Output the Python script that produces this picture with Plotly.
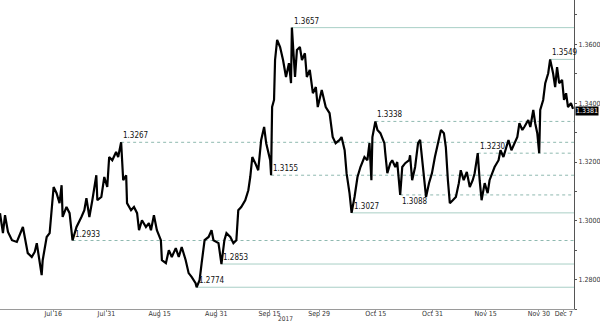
import plotly.graph_objects as go

# ---- price path (intraday samples) ----
times = [
    "2017-07-01 00:00", "2017-07-01 20:00", "2017-07-02 10:00", "2017-07-03 06:00", "2017-07-04 09:00",
    "2017-07-05 18:00", "2017-07-07 11:00", "2017-07-08 00:00", "2017-07-08 20:00", "2017-07-09 23:00",
    "2017-07-10 19:00", "2017-07-11 09:00", "2017-07-12 05:00", "2017-07-12 18:00", "2017-07-13 01:00",
    "2017-07-14 04:00", "2017-07-15 00:00", "2017-07-15 20:00", "2017-07-16 03:00", "2017-07-16 23:00",
    "2017-07-17 19:00", "2017-07-18 09:00", "2017-07-18 16:00", "2017-07-19 18:00", "2017-07-20 15:00",
    "2017-07-21 11:00", "2017-07-22 14:00", "2017-07-23 23:00", "2017-07-24 19:00", "2017-07-25 09:00",
    "2017-07-26 05:00", "2017-07-27 01:00", "2017-07-28 04:00", "2017-07-28 11:00", "2017-07-29 14:00",
    "2017-07-30 10:00", "2017-07-31 06:00", "2017-07-31 19:00", "2017-08-01 16:00", "2017-08-02 18:00",
    "2017-08-03 08:00", "2017-08-04 04:00", "2017-08-04 18:00", "2017-08-05 14:00", "2017-08-05 20:00",
    "2017-08-06 23:00", "2017-08-07 19:00", "2017-08-08 16:00", "2017-08-09 05:00", "2017-08-10 01:00",
    "2017-08-11 04:00", "2017-08-12 00:00", "2017-08-12 14:00", "2017-08-13 10:00", "2017-08-14 06:00",
    "2017-08-15 09:00", "2017-08-15 16:00", "2017-08-16 19:00", "2017-08-17 15:00", "2017-08-18 11:00",
    "2017-08-19 14:00", "2017-08-20 10:00", "2017-08-21 06:00", "2017-08-22 09:00", "2017-08-23 05:00",
    "2017-08-24 01:00", "2017-08-25 04:00", "2017-08-25 11:00", "2017-08-26 07:00", "2017-08-26 21:00",
    "2017-08-27 17:00", "2017-08-28 20:00", "2017-08-29 16:00", "2017-08-30 05:00", "2017-08-31 15:00",
    "2017-09-01 11:00", "2017-09-02 07:00", "2017-09-02 21:00", "2017-09-03 23:00", "2017-09-04 20:00",
    "2017-09-05 16:00", "2017-09-06 05:00", "2017-09-07 01:00", "2017-09-08 04:00", "2017-09-09 01:00",
    "2017-09-09 14:00", "2017-09-10 04:00", "2017-09-11 00:00", "2017-09-11 20:00", "2017-09-12 16:00",
    "2017-09-13 12:00", "2017-09-14 02:00", "2017-09-15 05:00", "2017-09-15 11:00", "2017-09-15 18:00",
    "2017-09-16 07:00", "2017-09-16 14:00", "2017-09-17 04:00", "2017-09-18 00:00", "2017-09-18 20:00",
    "2017-09-19 16:00", "2017-09-20 12:00", "2017-09-21 02:00", "2017-09-21 08:00", "2017-09-22 05:00",
    "2017-09-22 18:00", "2017-09-23 14:00", "2017-09-24 04:00", "2017-09-25 00:00", "2017-09-25 13:00",
    "2017-09-26 09:00", "2017-09-27 06:00", "2017-09-28 02:00", "2017-09-28 15:00", "2017-09-29 18:00",
    "2017-09-30 21:00", "2017-10-01 23:00", "2017-10-02 20:00", "2017-10-03 16:00", "2017-10-04 19:00",
    "2017-10-05 08:00", "2017-10-06 05:00", "2017-10-06 18:00", "2017-10-07 14:00", "2017-10-08 04:00",
    "2017-10-09 00:00", "2017-10-09 20:00", "2017-10-10 16:00", "2017-10-11 19:00", "2017-10-12 15:00",
    "2017-10-13 05:00", "2017-10-13 18:00", "2017-10-14 01:00", "2017-10-14 21:00", "2017-10-15 11:00",
    "2017-10-16 07:00", "2017-10-17 10:00", "2017-10-17 16:00", "2017-10-18 06:00", "2017-10-19 02:00",
    "2017-10-19 15:00", "2017-10-20 12:00", "2017-10-21 01:00", "2017-10-21 21:00", "2017-10-22 11:00",
    "2017-10-23 07:00", "2017-10-24 10:00", "2017-10-24 16:00", "2017-10-25 06:00", "2017-10-26 02:00",
    "2017-10-26 22:00", "2017-10-27 12:00", "2017-10-28 08:00", "2017-10-29 04:00", "2017-10-30 00:00",
    "2017-10-30 20:00", "2017-10-31 16:00", "2017-11-01 19:00", "2017-11-02 09:00", "2017-11-03 05:00",
    "2017-11-03 18:00", "2017-11-04 08:00", "2017-11-04 21:00", "2017-11-05 17:00", "2017-11-06 14:00",
    "2017-11-07 10:00", "2017-11-07 23:00", "2017-11-08 19:00", "2017-11-09 16:00", "2017-11-10 12:00",
    "2017-11-11 08:00", "2017-11-11 21:00", "2017-11-12 18:00", "2017-11-13 07:00", "2017-11-13 20:00",
    "2017-11-14 17:00", "2017-11-15 13:00", "2017-11-16 02:00", "2017-11-16 22:00", "2017-11-17 12:00",
    "2017-11-18 15:00", "2017-11-19 04:00", "2017-11-20 00:00", "2017-11-20 20:00", "2017-11-21 10:00",
    "2017-11-22 06:00", "2017-11-23 02:00", "2017-11-23 22:00", "2017-11-24 12:00", "2017-11-25 08:00",
    "2017-11-25 21:00", "2017-11-27 00:00", "2017-11-27 14:00", "2017-11-28 10:00", "2017-11-28 23:00",
    "2017-11-29 13:00", "2017-11-30 02:00", "2017-11-30 09:00", "2017-12-01 05:00", "2017-12-01 19:00",
    "2017-12-02 15:00", "2017-12-03 04:00", "2017-12-04 00:00", "2017-12-04 14:00", "2017-12-05 03:00",
    "2017-12-05 17:00", "2017-12-06 13:00", "2017-12-07 02:00", "2017-12-07 16:00", "2017-12-08 05:00",
    "2017-12-09 01:00", "2017-12-09 15:00",
]
prices = [
    1.3026, 1.2958, 1.3019, 1.2962, 1.2934,
    1.2928, 1.2979, 1.2945, 1.2890, 1.2877,
    1.2894, 1.2924, 1.2856, 1.2815, 1.2866,
    1.2945, 1.2958, 1.3081, 1.3115, 1.3094,
    1.3060, 1.3121, 1.3013, 1.3047, 1.3026,
    1.2933, 1.2979, 1.3013, 1.3036, 1.3077,
    1.3013, 1.3070, 1.3155, 1.3070, 1.3081,
    1.3149, 1.3115, 1.3217, 1.3206, 1.3234,
    1.3217, 1.3267, 1.3138, 1.3155, 1.3060,
    1.3036, 1.3047, 1.3026, 1.2968, 1.3002,
    1.2979, 1.2992, 1.2968, 1.3019, 1.2968,
    1.2934, 1.2866, 1.2856, 1.2900, 1.2877,
    1.2907, 1.2877, 1.2911, 1.2866, 1.2822,
    1.2809, 1.2788, 1.2774, 1.2798, 1.2856,
    1.2934, 1.2945, 1.2968, 1.2934, 1.2924,
    1.2853, 1.2934, 1.2958, 1.2945, 1.2924,
    1.2934, 1.3036, 1.3047, 1.3070, 1.3104,
    1.3149, 1.3217, 1.3196, 1.3172, 1.3275,
    1.3319, 1.3264, 1.3206, 1.3155, 1.3387,
    1.3411, 1.3547, 1.3615, 1.3591, 1.3547,
    1.3489, 1.3536, 1.3468, 1.3657, 1.3489,
    1.3581, 1.3591, 1.3547, 1.3570, 1.3489,
    1.3513, 1.3434, 1.3455, 1.3387, 1.3445,
    1.3387, 1.3366, 1.3285, 1.3264, 1.3275,
    1.3285, 1.3240, 1.3162, 1.3094, 1.3027,
    1.3081, 1.3149, 1.3183, 1.3217, 1.3206,
    1.3264, 1.3138, 1.3285, 1.3338, 1.3309,
    1.3298, 1.3264, 1.3230, 1.3162, 1.3196,
    1.3206, 1.3183, 1.3200, 1.3088, 1.3183,
    1.3196, 1.3206, 1.3223, 1.3138, 1.3183,
    1.3264, 1.3275, 1.3183, 1.3081, 1.3128,
    1.3162, 1.3217, 1.3285, 1.3309, 1.3298,
    1.3251, 1.3138, 1.3060, 1.3070, 1.3081,
    1.3128, 1.3172, 1.3138, 1.3166, 1.3115,
    1.3138, 1.3162, 1.3230, 1.3138, 1.3070,
    1.3128, 1.3094, 1.3138, 1.3162, 1.3183,
    1.3206, 1.3240, 1.3217, 1.3251, 1.3275,
    1.3240, 1.3264, 1.3285, 1.3332, 1.3309,
    1.3319, 1.3343, 1.3319, 1.3377, 1.3332,
    1.3298, 1.3230, 1.3377, 1.3411, 1.3468,
    1.3502, 1.3549, 1.3502, 1.3455, 1.3523,
    1.3468, 1.3479, 1.3411, 1.3434, 1.3387,
    1.3400, 1.3381,
]

# ---- support / resistance levels ----
level_values = [1.3657, 1.3549, 1.3338, 1.3267, 1.3230, 1.3155, 1.3088, 1.3027, 1.2933, 1.2853, 1.2774]
level_starts = ["2017-09-21 08:00", "2017-12-03 04:00", "2017-10-14 21:00", "2017-08-04 04:00",
                "2017-11-12 18:00", "2017-09-15 11:00", "2017-10-21 21:00", "2017-10-08 04:00",
                "2017-07-21 11:00", "2017-09-01 11:00", "2017-08-25 11:00"]
level_dashed = [False, False, True, True, True, True, True, False, True, False, False]
level_label_below = [False, False, False, False, False, False, True, False, False, False, False]

x_tick_dates = ["2017-07-16", "2017-07-31", "2017-08-15", "2017-08-31", "2017-09-15", "2017-09-29",
                "2017-10-15", "2017-10-31", "2017-11-15", "2017-11-30", "2017-12-07"]
x_tick_text = ["Jul 16", "Jul 31", "Aug 15", "Aug 31", "Sep 15", "Sep 29",
               "Oct 15", "Oct 31", "Nov 15", "Nov 30", "Dec 7"]
year_label = "2017"
last_price = prices[-1]

x_range = ["2017-07-01 00:00", "2017-12-09 21:36"]
y_range = [1.2700, 1.3751]

FONT = "Liberation Sans Narrow, Arial Narrow, DejaVu Sans Condensed, Liberation Sans, sans-serif"
SOLID_C = "#a9cfc6"
DASH_C = "#8fb9b0"

fig = go.Figure()

for v, s, d, below in zip(level_values, level_starts, level_dashed, level_label_below):
    fig.add_trace(go.Scatter(
        x=[s, x_range[1]], y=[v, v], mode="lines",
        line=dict(color=DASH_C if d else SOLID_C, width=1, dash="3px,3px" if d else "solid"),
        hoverinfo="skip", showlegend=False))
    fig.add_annotation(
        x=s, y=v, text=f"{v:.4f}", showarrow=False,
        xanchor="left", yanchor="top" if below else "bottom",
        xshift=0, yshift=0,
        font=dict(family=FONT, size=8, color="#111111"))

fig.add_trace(go.Scatter(
    x=times, y=prices, mode="lines",
    line=dict(color="#000000", width=2.2),
    showlegend=False))

fig.add_annotation(
    x=1, xref="paper", y=last_price, yref="y", text=f"{last_price:.4f}",
    showarrow=False, xanchor="left", xshift=1, yshift=-2,
    bgcolor="#000000", font=dict(family=FONT, size=7, color="#ffffff"),
    borderpad=0)

fig.add_annotation(
    x="2017-09-19 10:00", xref="x", y=-0.031, yref="paper", text=year_label,
    showarrow=False, xanchor="center", yanchor="middle",
    font=dict(family=FONT, size=6.5, color="#333333"))

fig.update_layout(
    width=600, height=323,
    margin=dict(l=0, r=22, t=0, b=14),
    paper_bgcolor="#ffffff", plot_bgcolor="#ffffff",
    showlegend=False,
    xaxis=dict(
        type="date", range=x_range,
        tickvals=x_tick_dates, ticktext=x_tick_text,
        showgrid=False, zeroline=False,
        showline=True, linecolor="#9a9a9a", linewidth=1,
        ticks="outside", ticklen=2, tickcolor="#9a9a9a",
        ticklabelstandoff=-4,
        tickfont=dict(family=FONT, size=7, color="#333333"),
    ),
    yaxis=dict(
        side="right", range=y_range,
        tick0=1.28, dtick=0.02, tickformat=".4f",
        showgrid=False, zeroline=False,
        showline=True, linecolor="#555555", linewidth=1,
        ticks="outside", ticklen=2, tickcolor="#555555",
        minor=dict(dtick=0.01, ticks="outside", ticklen=2, tickcolor="#555555"),
        tickfont=dict(family=FONT, size=7, color="#333333"),
    ),
)

fig.write_html("out.html")
